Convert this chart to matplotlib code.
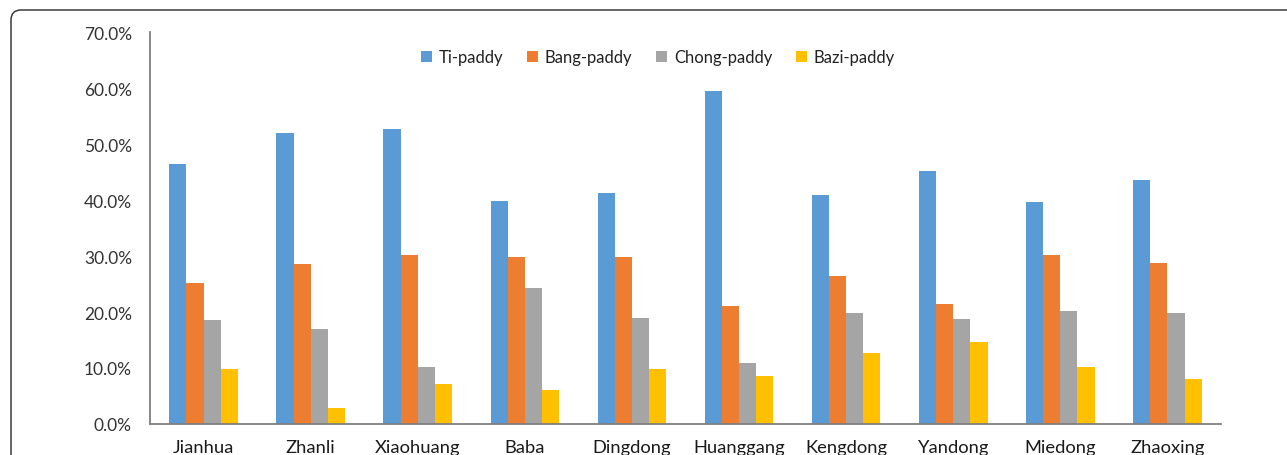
import matplotlib
matplotlib.use("Agg")
import matplotlib.pyplot as plt
import numpy as np
from matplotlib.patches import FancyBboxPatch
from matplotlib.transforms import IdentityTransform
from matplotlib.ticker import PercentFormatter

categories = ["Jianhua", "Zhanli", "Xiaohuang", "Baba", "Dingdong",
              "Huanggang", "Kengdong", "Yandong", "Miedong", "Zhaoxing"]
ti_paddy = [46.4, 51.9, 52.6, 39.8, 41.3, 59.5, 40.9, 45.2, 39.6, 43.6]
bang_paddy = [25.2, 28.5, 30.2, 29.8, 29.8, 21.1, 26.4, 21.5, 30.2, 28.7]
chong_paddy = [18.5, 16.9, 10.2, 24.3, 19.0, 10.9, 19.9, 18.7, 20.1, 19.9]
bazi_paddy = [9.9, 2.8, 7.1, 6.1, 9.9, 8.5, 12.7, 14.6, 10.2, 8.0]
series_names = ["Ti-paddy", "Bang-paddy", "Chong-paddy", "Bazi-paddy"]
colors = ["#5B9BD5", "#ED7D31", "#A5A5A5", "#FFC000"]

plt.rcParams['font.family'] = ['Lato', 'DejaVu Sans']

W, H = 1287, 456
fig = plt.figure(figsize=(W / 100, H / 100), dpi=100)
ax = fig.add_axes([150 / W, 31 / H, (1221 - 150) / W, (425 - 33) / H])

x = np.arange(len(categories))
bw = 0.16
for i, (vals, name, c) in enumerate(zip([ti_paddy, bang_paddy, chong_paddy, bazi_paddy],
                                       series_names, colors)):
    ax.bar(x + (i - 1.5) * bw, vals, width=bw, color=c, label=name, linewidth=0)

ax.set_xlim(-0.5, len(categories) - 0.5)
ax.set_ylim(0, 70)
ax.set_yticks(np.arange(0, 71, 10))
ax.yaxis.set_major_formatter(PercentFormatter(decimals=1))
ax.set_xticks(x)
ax.set_xticklabels(categories, fontsize=13.2, color="#1a1a1a")
for lbl in ax.get_xticklabels():
    lbl.set_verticalalignment("baseline")
ax.tick_params(axis='y', length=0, pad=13, labelsize=12.5, labelcolor="#333333")
ax.tick_params(axis='x', length=0, pad=20)
for s in ["top", "right"]:
    ax.spines[s].set_visible(False)
for s in ["left", "bottom"]:
    ax.spines[s].set_color("#7f7f7f")
    ax.spines[s].set_linewidth(1.3)

leg = fig.legend(loc="center", bbox_to_anchor=(658 / W, 1 - 58 / H), ncol=4,
                 frameon=False, fontsize=12, handlelength=0.65, handleheight=0.65,
                 handletextpad=0.4, columnspacing=1.45)
for t in leg.get_texts():
    t.set_color("#222222")

box = FancyBboxPatch((11, -40), 1400, 456 - 11 + 40,
                     boxstyle="round,pad=0,rounding_size=10",
                     transform=IdentityTransform(), fill=False,
                     edgecolor="#3a3a3a", linewidth=1.1)
fig.patches.append(box)

fig.savefig("out.png", dpi=100)
